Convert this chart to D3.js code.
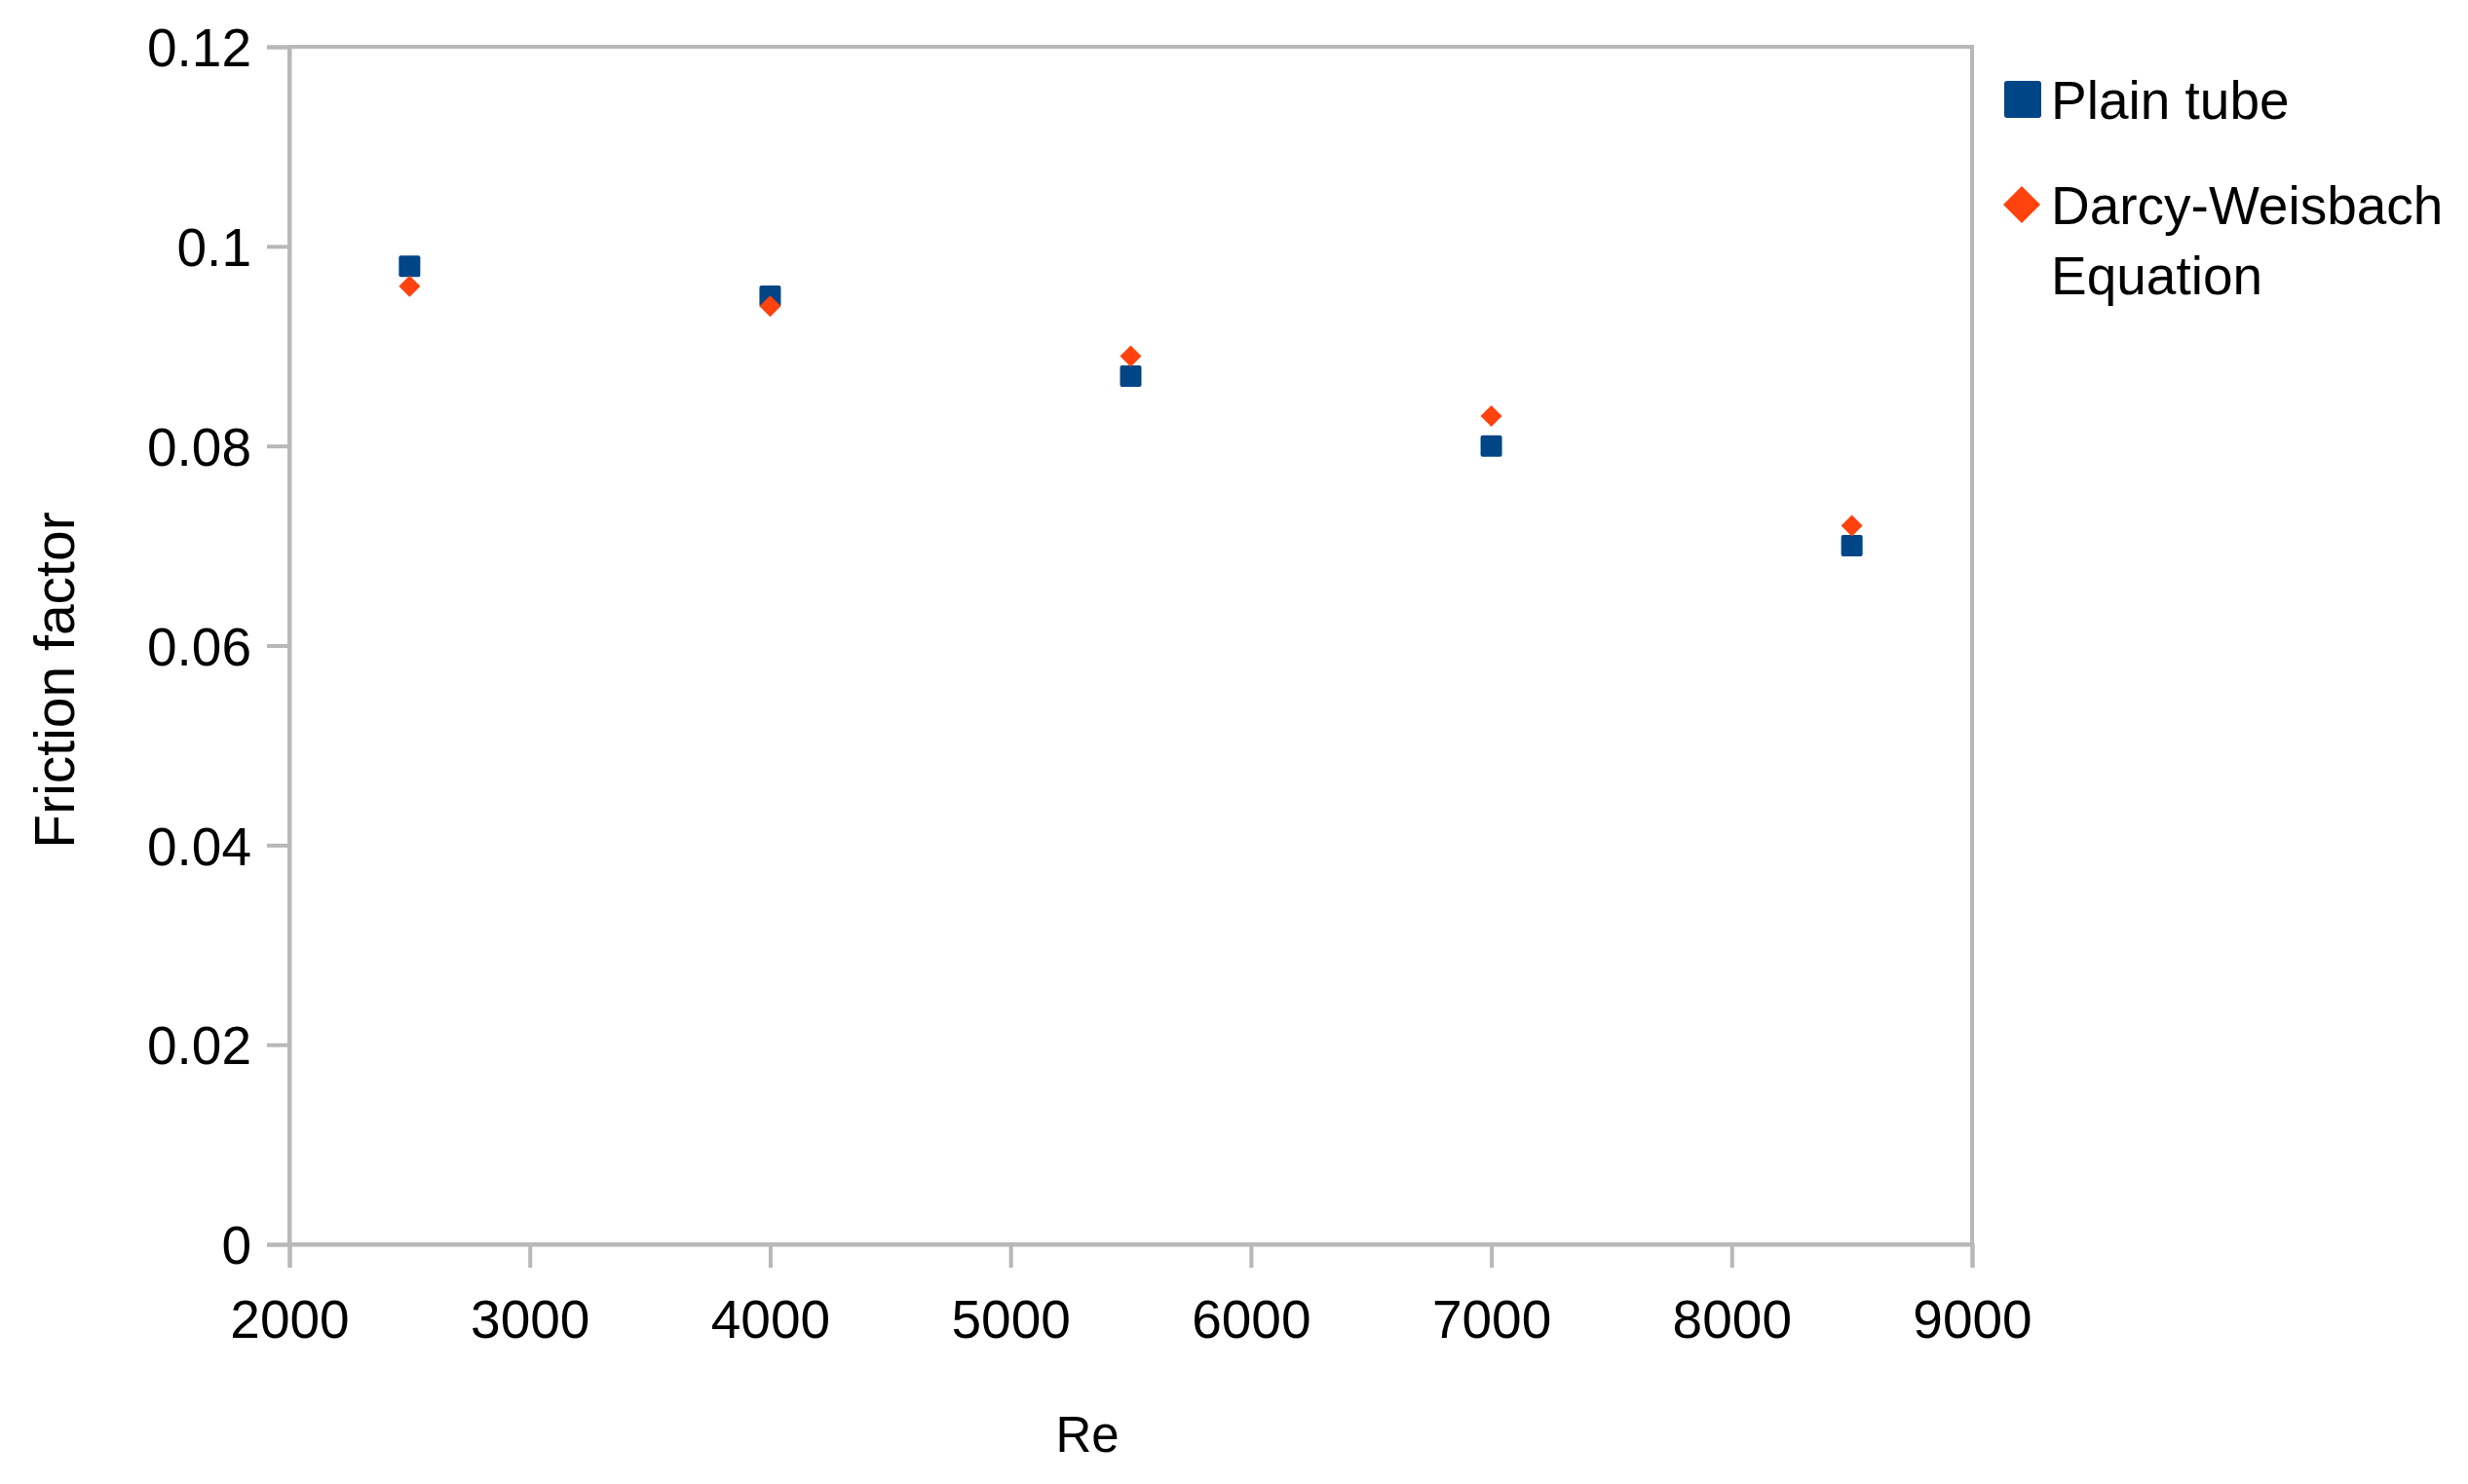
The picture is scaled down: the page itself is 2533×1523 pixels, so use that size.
<!DOCTYPE html>
<html>
<head>
<meta charset="utf-8">
<script src="https://cdn.jsdelivr.net/npm/d3@7"></script>
<style>
  html, body { margin: 0; padding: 0; background: #ffffff; }
  svg { display: block; }
  text { font-family: "Liberation Sans", Arial, sans-serif; fill: #000; }
</style>
</head>
<body>
<script>
const reynolds = [2500, 4000, 5500, 7000, 8500];
const plainTube = [0.098, 0.095, 0.087, 0.080, 0.070];
const darcyWeisbach = [0.096, 0.094, 0.089, 0.083, 0.072];
const xTicks = [2000, 3000, 4000, 5000, 6000, 7000, 8000, 9000];
const yTicks = [0, 0.02, 0.04, 0.06, 0.08, 0.1, 0.12];
const seriesNames = ["Plain tube", "Darcy-Weisbach Equation"];

const W = 2533, H = 1523;
const plotLeft = 297, plotRight = 2024, plotTop = 48, plotBottom = 1277;
const axisColor = "#b8b8b8";
const blue = "#004586", orange = "#ff420e";

const svg = d3.select("body").append("svg").attr("width", W).attr("height", H);

const x = d3.scaleLinear().domain([2000, 9000]).range([plotLeft, plotRight]);
const y = d3.scaleLinear().domain([0, 0.12]).range([plotBottom, plotTop]);

// plot frame
svg.append("rect")
  .attr("x", plotLeft).attr("y", plotTop)
  .attr("width", plotRight - plotLeft).attr("height", plotBottom - plotTop)
  .attr("fill", "none").attr("stroke", axisColor).attr("stroke-width", 4);

const fmtY = d => d === 0 ? "0" : String(+d.toFixed(2));

const yAxis = svg.append("g").attr("transform", `translate(${plotLeft},0)`)
  .call(d3.axisLeft(y).tickValues(yTicks).tickFormat(fmtY).tickSize(23).tickPadding(16));
const xAxis = svg.append("g").attr("transform", `translate(0,${plotBottom})`)
  .call(d3.axisBottom(x).tickValues(xTicks).tickFormat(d3.format("d")).tickSize(24).tickPadding(32));

[yAxis, xAxis].forEach(g => {
  g.select(".domain").attr("stroke", axisColor).attr("stroke-width", 4);
  g.selectAll(".tick line").attr("stroke", axisColor).attr("stroke-width", 4);
  g.selectAll(".tick text")
    .attr("font-family", "Liberation Sans, Arial, sans-serif")
    .attr("font-size", 55).attr("fill", "#000");
});
yAxis.selectAll(".tick text").attr("dy", "0.36em");
xAxis.selectAll(".tick text").attr("dy", "0.72em");

// axis titles
svg.append("text")
  .attr("x", 1116).attr("y", 1472).attr("dy", "0.36em")
  .attr("text-anchor", "middle").attr("font-size", 51)
  .text("Re");
svg.append("text")
  .attr("transform", "translate(55,698) rotate(-90)")
  .attr("dy", "0.36em")
  .attr("text-anchor", "middle").attr("font-size", 57)
  .text("Friction factor");

const ms = 22;
const diamond = s => `M0,${-s/2}L${s/2},0L0,${s/2}L${-s/2},0Z`;

// series 1 squares
svg.append("g").selectAll("rect")
  .data(reynolds.map((r, i) => ({ r, v: plainTube[i] })))
  .join("rect")
  .attr("x", d => x(d.r) - ms / 2).attr("y", d => y(d.v) - ms / 2)
  .attr("width", ms).attr("height", ms).attr("rx", 2)
  .attr("fill", blue);

// series 2 diamonds
svg.append("g").selectAll("path")
  .data(reynolds.map((r, i) => ({ r, v: darcyWeisbach[i] })))
  .join("path")
  .attr("transform", d => `translate(${x(d.r)},${y(d.v)})`)
  .attr("d", diamond(22))
  .attr("fill", orange);

// legend
const lg = svg.append("g");
lg.append("rect").attr("x", 2057).attr("y", 83).attr("width", 38).attr("height", 38).attr("rx", 3).attr("fill", blue);
lg.append("text").attr("x", 2105).attr("y", 102).attr("dy", "0.36em").attr("font-size", 55).text(seriesNames[0]);
lg.append("path").attr("transform", "translate(2075,210)").attr("d", diamond(38)).attr("fill", orange);
const t2 = lg.append("text").attr("x", 2105).attr("y", 210).attr("font-size", 55);
t2.append("tspan").attr("x", 2105).attr("dy", "0.36em").text("Darcy-Weisbach");
t2.append("tspan").attr("x", 2105).attr("dy", 72).text("Equation");
</script>
</body>
</html>
